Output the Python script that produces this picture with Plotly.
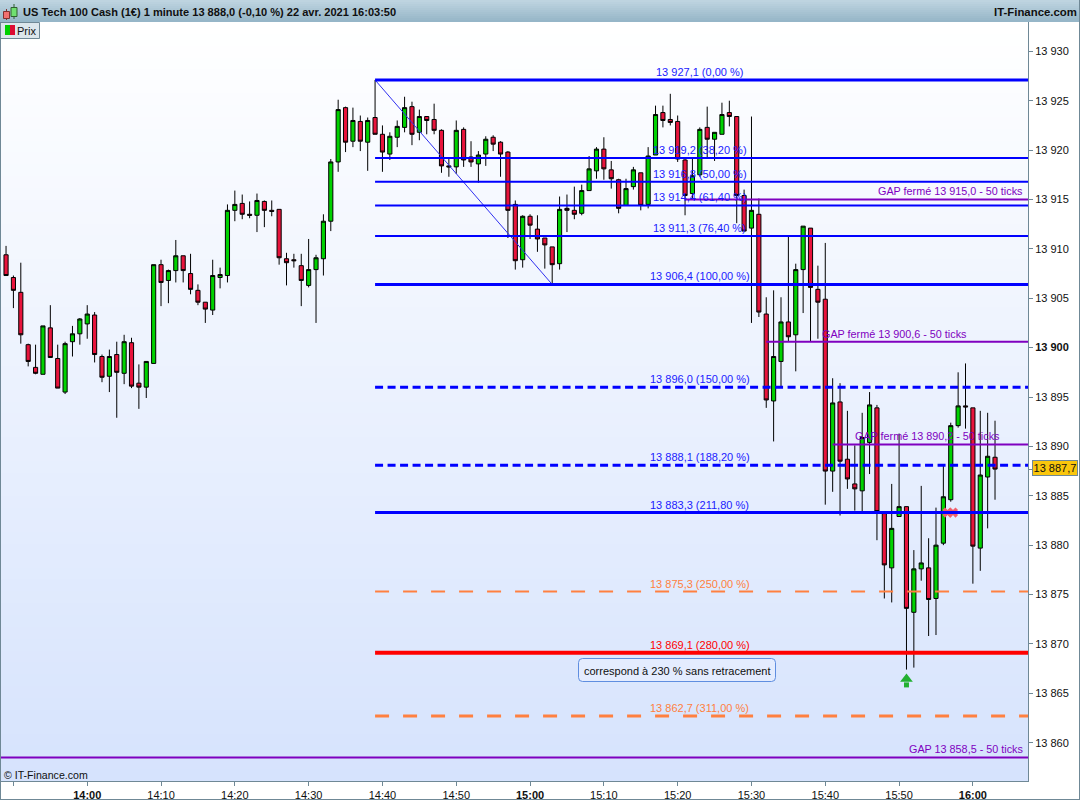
import numpy as np
import pandas as pd
import plotly.graph_objects as go

opens = [
13909.4,13907.1,13905.6,13900.3,13898.0,13897.3,13902.0,13898.9,13895.5,13900.6,
13901.4,13902.4,13903.3,13899.1,13897.1,13899.3,13897.4,13900.5,13896.4,13896.0,
13898.4,13908.4,13906.8,13907.8,13909.3,13907.5,13905.8,13904.6,13903.8,13907.1,
13907.3,13913.9,13914.6,13913.5,13913.4,13914.8,13913.9,13914.0,13909.0,13908.9,
13908.3,13906.3,13907.9,13909.0,13912.8,13918.8,13924.3,13920.9,13922.9,13920.8,
13923.3,13921.6,13919.6,13921.3,13922.3,13924.4,13921.8,13923.4,13923.1,13922.0,
13918.4,13918.3,13922.1,13919.3,13918.6,13919.6,13921.3,13920.8,13919.8,13914.5,
13908.9,13913.3,13912.0,13911.1,13910.2,13908.5,13914.1,13913.9,13913.6,13915.9,
13917.9,13920.1,13918.0,13917.0,13914.4,13916.3,13917.7,13914.5,13919.5,13923.8,
13923.1,13922.9,13919.0,13915.6,13917.5,13922.3,13921.1,13921.6,13923.8,13923.4,
13915.4,13912.1,13913.5,13903.4,13894.6,13898.6,13902.6,13901.3,13907.9,13912.1,
13905.9,13904.9,13887.5,13894.5,13888.7,13886.2,13885.5,13890.4,13893.9,13883.2,
13877.7,13882.9,13883.9,13873.2,13877.6,13877.7,13874.6,13880.2,13884.6,13892.1,
13894.1,13893.9,13879.7,13886.9,13888.9]
highs = [
13910.3,13907.3,13908.6,13900.4,13900.3,13902.2,13904.3,13900.3,13900.6,13902.2,
13903.0,13904.3,13903.6,13899.3,13899.8,13900.6,13901.3,13901.0,13898.3,13898.6,
13908.4,13908.9,13907.9,13910.9,13909.3,13909.5,13906.4,13904.6,13908.9,13908.1,
13914.5,13915.9,13915.5,13914.8,13915.6,13914.9,13914.9,13914.0,13909.6,13909.5,
13909.5,13911.0,13909.4,13913.5,13919.1,13925.1,13924.4,13924.3,13923.5,13923.3,
13927.1,13922.5,13921.8,13923.0,13925.4,13924.9,13924.1,13923.4,13924.7,13922.1,
13919.1,13923.0,13922.3,13920.9,13919.9,13921.4,13921.5,13920.9,13919.9,13914.9,
13913.4,13913.5,13913.4,13911.1,13910.2,13915.3,13915.5,13916.3,13916.5,13919.4,
13920.3,13921.3,13918.9,13917.1,13917.1,13918.3,13917.7,13920.3,13924.5,13924.5,
13925.7,13923.5,13919.1,13919.2,13922.3,13924.4,13921.8,13924.8,13925.0,13923.4,
13916.0,13923.4,13915.1,13905.1,13905.8,13905.1,13911.4,13908.5,13912.3,13912.1,
13908.3,13910.6,13896.9,13896.4,13893.6,13890.1,13893.4,13895.5,13894.2,13883.4,
13886.2,13891.3,13883.9,13879.5,13886.0,13880.7,13883.8,13888.1,13892.4,13897.5,
13898.4,13893.9,13893.6,13893.4,13892.6]
lows = [
13907.3,13904.0,13900.4,13898.1,13897.3,13897.3,13899.0,13895.9,13895.3,13899.1,
13900.3,13900.9,13898.5,13896.5,13895.5,13892.9,13896.3,13895.9,13893.8,13894.9,
13898.4,13904.2,13904.5,13906.6,13906.6,13905.4,13904.3,13902.5,13903.3,13906.0,
13906.6,13912.8,13913.0,13913.1,13911.7,13912.2,13913.3,13908.4,13906.3,13908.1,
13904.2,13906.1,13902.5,13907.3,13911.8,13917.8,13919.8,13920.3,13919.9,13917.9,
13921.6,13917.8,13919.0,13920.3,13921.8,13920.5,13921.0,13921.6,13921.6,13917.7,
13917.3,13917.6,13918.3,13918.3,13916.7,13918.4,13919.9,13917.3,13911.1,13907.9,
13908.1,13911.0,13909.7,13908.0,13906.5,13907.9,13911.7,13913.0,13913.4,13915.9,
13917.1,13917.0,13916.1,13913.6,13914.4,13916.0,13913.9,13914.1,13919.5,13922.3,
13922.5,13918.8,13913.4,13915.1,13917.3,13919.2,13918.9,13921.6,13922.4,13912.6,
13911.8,13902.5,13903.1,13893.9,13890.5,13896.0,13900.6,13897.6,13903.5,13900.6,
13900.9,13884.1,13885.4,13883.0,13885.7,13883.5,13883.3,13887.2,13880.5,13874.6,
13874.2,13882.9,13867.4,13867.6,13876.4,13870.8,13870.9,13880.0,13884.4,13891.9,
13891.8,13876.1,13877.4,13881.7,13884.6]
closes = [
13907.3,13905.8,13901.3,13898.6,13897.4,13902.2,13899.0,13895.9,13900.4,13901.4,
13902.9,13903.4,13899.3,13897.0,13899.1,13897.5,13900.6,13896.1,13896.0,13898.6,
13908.4,13906.6,13907.8,13909.3,13907.8,13905.9,13904.6,13903.9,13907.3,13907.4,
13913.9,13914.5,13913.5,13913.4,13914.9,13913.9,13913.8,13909.1,13908.6,13908.8,
13906.8,13907.9,13909.1,13912.8,13918.8,13924.1,13920.8,13923.0,13920.9,13923.0,
13921.6,13919.8,13921.4,13922.4,13924.3,13921.6,13923.4,13923.0,13922.0,13918.4,
13918.3,13922.0,13919.0,13918.8,13919.5,13921.1,13920.6,13919.6,13913.9,13908.8,
13913.3,13912.4,13911.0,13910.4,13908.4,13914.0,13913.9,13913.5,13915.9,13918.1,
13920.1,13918.1,13917.1,13914.1,13916.1,13918.0,13914.4,13919.4,13923.6,13923.0,
13922.8,13919.1,13915.4,13917.4,13922.1,13921.1,13921.8,13923.6,13923.4,13915.4,
13911.8,13913.9,13903.6,13894.7,13899.1,13902.6,13901.1,13907.9,13912.3,13906.1,
13904.6,13887.5,13894.4,13888.5,13886.7,13885.7,13890.9,13894.2,13883.4,13878.0,
13881.7,13883.9,13873.6,13877.6,13878.2,13874.5,13880.0,13884.9,13892.1,13894.1,
13894.0,13879.9,13887.1,13889.0,13887.7]
assert len(opens) == len(highs) == len(lows) == len(closes) == 135
times = [t.strftime("%Y-%m-%d %H:%M") for t in pd.date_range("2021-04-22 13:49", periods=135, freq="min")]

x_start = "2021-04-22 13:48:19"
x_end = "2021-04-22 16:07:28"
y_low = 13856.12
y_high = 13932.97

y_ticks = [13860, 13865, 13870, 13875, 13880, 13885, 13887.7, 13890, 13895, 13900, 13905, 13910, 13915, 13920, 13925, 13930]
y_labels = ["13 860", "13 865", "13 870", "13 875", "13 880", "13 885", "", "13 890", "13 895", "<b>13 900</b>", "13 905", "13 910", "13 915", "13 920", "13 925", "13 930"]
x_ticks = ["2021-04-22 " + t for t in ["14:00", "14:10", "14:20", "14:30", "14:40", "14:50", "15:00", "15:10", "15:20", "15:30", "15:40", "15:50", "16:00", "13:50"]]
x_labels = ["<b>14:00</b>", "14:10", "14:20", "14:30", "14:40", "14:50", "<b>15:00</b>", "15:10", "15:20", "15:30", "15:40", "15:50", "<b>16:00</b>", ""]

fib_start = "2021-04-22 14:39"
fib_end_low = "2021-04-22 15:03"
fib_high = 13927.1
fib_low = 13906.4
level_prices = [13927.1, 13919.2, 13916.8, 13914.4, 13911.3, 13906.4, 13896.0, 13888.1, 13883.3, 13875.3, 13869.1, 13862.7]
level_labels = ["13 927,1 (0,00 %)", "13 919,2 (38,20 %)", "13 916,8 (50,00 %)", "13 914,4 (61,40 %)", "13 911,3 (76,40 %)",
                "13 906,4 (100,00 %)", "13 896,0 (150,00 %)", "13 888,1 (188,20 %)", "13 883,3 (211,80 %)",
                "13 875,3 (250,00 %)", "13 869,1 (280,00 %)", "13 862,7 (311,00 %)"]
level_colors = ["#0000ff"] * 9 + ["#ff8040", "#ff0000", "#ff8040"]
level_widths = [3, 2, 2, 2, 2, 3, 3, 3, 3, 2, 4, 3]
level_dashes = ["solid"] * 6 + ["8px,4.5px", "8px,4.5px", "solid", "14px,14px", "solid", "14px,14px"]

gap_prices = [13915.0, 13900.6, 13890.2, 13858.5]
gap_starts = ["2021-04-22 15:21", "2021-04-22 15:32", "2021-04-22 15:41", x_start]
gap_labels = ["GAP fermé 13 915,0 - 50 ticks", "GAP fermé 13 900,6 - 50 ticks", "GAP fermé 13 890,2 - 50 ticks", "GAP 13 858,5 - 50 ticks"]
gap_label_x = ["2021-04-22 16:07:00", "2021-04-22 15:49:26", "2021-04-22 15:53:54", "2021-04-22 16:07:00"]
gap_label_anchor = ["right", "center", "center", "right"]

arrow_time = ["2021-04-22 15:51"]
arrow_head = [13866.45]
arrow_stem = [13865.85]
cross_times = ["2021-04-22 15:56:34", "2021-04-22 15:57:18"]
cross_prices = [13883.3, 13883.3]
last_price = 13887.7

FONT = "Liberation Sans"
GREY = "#6f8896"
PURPLE = "#7f00bf"

def px(x):
    return (x - 1) / 1027

def py(y):
    return (781 - y) / 759

fig = go.Figure()
shade_rows = 64
fig.add_trace(go.Heatmap(
    x=[x_start, x_end], y=np.linspace(y_low, y_high, shade_rows + 1).tolist(), z=[[i] for i in range(shade_rows)],
    colorscale=[[0, "#d6e3fd"], [1, "#ffffff"]], showscale=False, hoverinfo="skip"))
fig.add_trace(go.Candlestick(
    x=times, open=opens, high=highs, low=lows, close=closes, whiskerwidth=0,
    increasing=dict(fillcolor="#00d200", line=dict(color="#000000", width=1)),
    decreasing=dict(fillcolor="#e8143c", line=dict(color="#000000", width=1)),
    showlegend=False, hoverinfo="skip"))
fig.add_trace(go.Scatter(x=cross_times, y=cross_prices, mode="markers",
                         marker=dict(symbol="x", size=9, color="#f0606c"), hoverinfo="skip", showlegend=False))
fig.add_trace(go.Scatter(x=arrow_time, y=arrow_stem, mode="markers",
                         marker=dict(symbol="square", size=5, color="#22b030"), hoverinfo="skip", showlegend=False))
fig.add_trace(go.Scatter(x=arrow_time, y=arrow_head, mode="markers",
                         marker=dict(symbol="triangle-up", size=11, color="#22b030"), hoverinfo="skip", showlegend=False))
fig.add_trace(go.Scatter(x=[fib_start, fib_end_low], y=[fib_high, fib_low], mode="lines",
                         line=dict(color="#3030f0", width=1), hoverinfo="skip", showlegend=False))
for price, colour, width, dash in zip(level_prices, level_colors, level_widths, level_dashes):
    fig.add_trace(go.Scatter(x=[fib_start, x_end], y=[price, price], mode="lines",
                             line=dict(color=colour, width=width, dash=dash), hoverinfo="skip", showlegend=False))
for price, start in zip(gap_prices, gap_starts):
    fig.add_trace(go.Scatter(x=[start, x_end], y=[price, price], mode="lines",
                             line=dict(color=PURPLE, width=2), hoverinfo="skip", showlegend=False))

annotations = []
for price, label, colour in zip(level_prices, level_labels, level_colors):
    annotations.append(dict(x="2021-04-22 15:23", y=price, xref="x", yref="y", text=label, showarrow=False,
                            xanchor="center", yanchor="bottom", yshift=0,
                            font=dict(family=FONT, size=11, color=colour if colour != "#0000ff" else "#1a1aff")))
for price, label, xpos, anchor in zip(gap_prices, gap_labels, gap_label_x, gap_label_anchor):
    annotations.append(dict(x=xpos, y=price, xref="x", yref="y", text=label, showarrow=False,
                            xanchor=anchor, yanchor="bottom", yshift=0,
                            font=dict(family=FONT, size=10.8, color=PURPLE)))
annotations += [
    dict(x=px(21), y=py(11.5), xref="paper", yref="paper", xanchor="left", yanchor="middle", showarrow=False,
         text="<b>US Tech 100 Cash (1€) 1 minute 13 888,0 (-0,10 %) 22 avr. 2021 16:03:50</b>",
         font=dict(family=FONT, size=11.06, color="#101010")),
    dict(x=px(1079), y=py(12), xref="paper", yref="paper", xanchor="right", yanchor="middle", showarrow=False,
         text="<b>IT-Finance.com</b>", font=dict(family=FONT, size=11.4, color="#101010")),
    dict(x=px(15), y=py(30.5), xref="paper", yref="paper", xanchor="left", yanchor="middle", showarrow=False,
         text="Prix", font=dict(family=FONT, size=11, color="#101010")),
    dict(x=px(2), y=py(775), xref="paper", yref="paper", xanchor="left", yanchor="middle", showarrow=False,
         text="© IT-Finance.com", font=dict(family=FONT, size=10.6, color="#101010")),
    dict(x=px(677), y=py(671), xref="paper", yref="paper", xanchor="center", yanchor="middle", showarrow=False,
         text="correspond à 230 % sans retracement", font=dict(family=FONT, size=11, color="#101010")),
    dict(x=1, xshift=4, y=last_price, xref="paper", yref="y", xanchor="left", yanchor="middle", showarrow=False,
         yshift=1, text="13 887,7", width=44, height=14, bgcolor="#fac60c", bordercolor=GREY, borderwidth=1, borderpad=0,
         font=dict(family=FONT, size=11, color="#101010")),
]

shapes = []
bar_colours = ["#bed4e0", "#bad1de", "#b6cedb", "#b2cbd9", "#aec8d6", "#aac5d4", "#a6c2d1", "#a2bfcf", "#9ebccc", "#9ab9ca", "#96b6c8"]
for i, colour in enumerate(bar_colours):
    shapes.append(dict(type="rect", xref="paper", yref="paper", x0=px(0), x1=px(1080), y0=py(i * 2 + 2), y1=py(i * 2),
                       fillcolor=colour, line=dict(width=0), layer="above"))
def box(x0, y0, x1, y1, fill, line=None, width=1):
    shapes.append(dict(type="rect", xref="paper", yref="paper", x0=px(x0), x1=px(x1), y0=py(y1), y1=py(y0),
                       fillcolor=fill, line=dict(color=line or fill, width=width if line else 0), layer="above"))
# title icon
shapes.append(dict(type="line", xref="paper", yref="paper", x0=px(6.5), x1=px(6.5), y0=py(20), y1=py(9), line=dict(color="#803030", width=1), layer="above"))
box(3.5, 11.5, 9.5, 18.5, "#f07070", "#803030")
shapes.append(dict(type="line", xref="paper", yref="paper", x0=px(14), x1=px(14), y0=py(19), y1=py(4), line=dict(color="#306030", width=1), layer="above"))
box(11, 7.5, 17, 16.5, "#70e070", "#306030")
# price button
box(0.5, 22.5, 39.5, 38.5, "#dce6ec", GREY)
box(5, 25, 10, 35, "#00d000")
box(10, 25, 15, 35, "#dc0a32")
# outer frame
box(0, 22, 1, 800, GREY)
box(1079, 0, 1080, 800, GREY)
box(0, 799, 1080, 800, GREY)
# note box
l, r, t, b = px(578.5), px(775.5), py(658.5), py(681.5)
dx, dy = 4 / 1027, 4 / 759
path = (f"M {l+dx} {t} L {r-dx} {t} Q {r} {t} {r} {t-dy} L {r} {b+dy} Q {r} {b} {r-dx} {b} "
        f"L {l+dx} {b} Q {l} {b} {l} {b+dy} L {l} {t-dy} Q {l} {t} {l+dx} {t} Z")
shapes.append(dict(type="path", xref="paper", yref="paper", path=path, fillcolor="#e4ecfe",
                   line=dict(color="#5f8ee0", width=1), layer="above"))

fig.update_layout(
    width=1080, height=800, autosize=False,
    margin=dict(l=1, r=52, t=22, b=19, pad=0, autoexpand=False),
    paper_bgcolor="#ffffff", plot_bgcolor="#ffffff",
    showlegend=False, hovermode=False,
    boxgap=0.2,
    font=dict(family=FONT, size=11, color="#101010"),
    annotations=annotations, shapes=shapes,
    xaxis=dict(type="date", range=[x_start, x_end], rangeslider=dict(visible=False),
               tickmode="array", tickvals=x_ticks, ticktext=x_labels, ticks="outside", ticklen=4, tickwidth=1,
               tickcolor=GREY, showgrid=False, zeroline=False, showline=True, linecolor=GREY, linewidth=1,
               tickfont=dict(family=FONT, size=11, color="#101010")),
    yaxis=dict(range=[y_low, y_high], side="right", tickmode="array", tickvals=y_ticks, ticktext=y_labels,
               ticks="outside", ticklen=4, tickwidth=1, tickcolor=GREY, showgrid=False, zeroline=False,
               showline=True, linecolor=GREY, linewidth=1,
               tickfont=dict(family=FONT, size=11, color="#101010")),
)

fig.write_html("out.html", config=dict(displayModeBar=False),
               post_script="document.body.style.margin='0';document.documentElement.style.overflow='hidden';")
